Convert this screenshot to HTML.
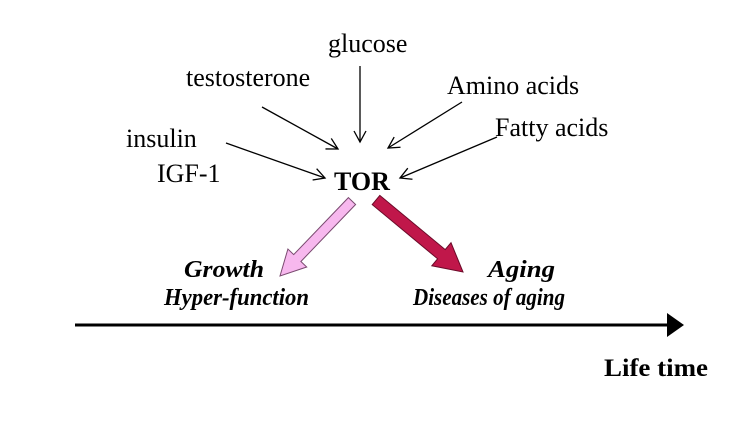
<!DOCTYPE html>
<html><head><style>
html,body{margin:0;padding:0;background:#fff;}
svg{display:block;}
text{font-family:"Liberation Serif",serif;fill:#000;}
</style></head><body>
<svg width="750" height="433" viewBox="0 0 750 433" xmlns="http://www.w3.org/2000/svg">
<defs>
<marker id="a" markerWidth="14" markerHeight="14" refX="12" refY="7" orient="auto" markerUnits="userSpaceOnUse">
<path d="M1,1 L12,7 L1,13" fill="none" stroke="#000" stroke-width="1.3"/>
</marker>
</defs>
<g font-size="26">
<text x="328" y="52">glucose</text>
<text x="186" y="86">testosterone</text>
<text x="447" y="94">Amino acids</text>
<text x="495" y="136">Fatty acids</text>
<text x="126" y="147">insulin</text>
<text x="157" y="182">IGF-1</text>
</g>
<g stroke="#000" stroke-width="1.3" marker-end="url(#a)">
<line x1="360" y1="66" x2="360" y2="142"/>
<line x1="262" y1="107" x2="338" y2="149"/>
<line x1="462" y1="102" x2="388" y2="148"/>
<line x1="497" y1="137" x2="400" y2="178"/>
<line x1="226" y1="143" x2="325" y2="178"/>
</g>
<text x="334" y="190" font-size="26" font-weight="bold">TOR</text>
<polygon points="348.4,197.6 355.6,204.5 300.9,261.5 306.7,267 280,276 287.9,249 293.7,254.6" fill="#f7b8ee" stroke="#7a4a70" stroke-width="1"/>
<polygon points="379.8,195.4 445.2,249.6 451,242.7 463,272 431.8,265.8 437.6,258.8 372.2,204.6" fill="#c0174a" stroke="#6a0a28" stroke-width="1"/>
<g font-size="24" font-weight="bold" font-style="italic">
<text x="184" y="277" textLength="80" lengthAdjust="spacingAndGlyphs">Growth</text>
<text x="164" y="305" textLength="145" lengthAdjust="spacingAndGlyphs">Hyper-function</text>
<text x="488" y="277" textLength="67" lengthAdjust="spacingAndGlyphs">Aging</text>
<text x="413" y="305" textLength="152" lengthAdjust="spacingAndGlyphs">Diseases of aging</text>
</g>
<line x1="75" y1="325" x2="670" y2="325" stroke="#000" stroke-width="3"/>
<polygon points="667,313 684,325 667,337" fill="#000"/>
<text x="604" y="376" font-size="25" font-weight="bold" textLength="104" lengthAdjust="spacingAndGlyphs">Life time</text>
</svg>
</body></html>
